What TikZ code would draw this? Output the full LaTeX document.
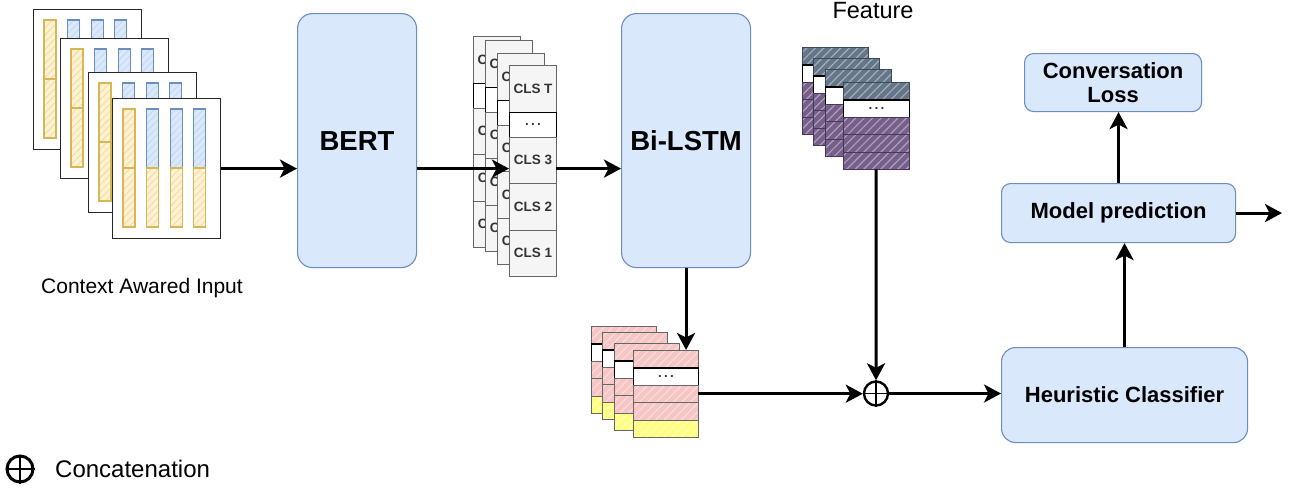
\documentclass[tikz,border=0pt]{standalone}
\usepackage{fontspec}
\setmainfont{Liberation Sans}
\usetikzlibrary{arrows.meta,patterns.meta}

\definecolor{boxfill}{HTML}{DAE8FC}
\definecolor{boxline}{HTML}{6C8EBF}
\definecolor{yfill}{HTML}{FFF2CC}
\definecolor{yline}{HTML}{D6B656}
\definecolor{yhatch}{HTML}{EBDDB5}
\definecolor{bhatch}{HTML}{C9D8EC}
\definecolor{cellfill}{HTML}{F5F5F5}
\definecolor{cellline}{HTML}{666666}
\definecolor{slate}{HTML}{647687}
\definecolor{slatehatch}{HTML}{A3AEBA}
\definecolor{slateline}{HTML}{3A4A5A}
\definecolor{purp}{HTML}{76608A}
\definecolor{purphatch}{HTML}{AE9FBB}
\definecolor{purpline}{HTML}{4A3560}
\definecolor{pinkfill}{HTML}{F6C6C4}
\definecolor{pinkhatch}{HTML}{FADDDC}
\definecolor{yelfill}{HTML}{FFFF80}
\definecolor{yelhatch}{HTML}{FFFFC0}
\definecolor{txtgray}{HTML}{333333}

\newcommand{\fbig}{\fontsize{27.5}{30}\selectfont\bfseries}
\newcommand{\fmid}{\fontsize{22}{24.5}\selectfont\bfseries}
\newcommand{\fcls}{\fontsize{13.5}{15}\selectfont\bfseries}
\newcommand{\fplain}{\fontsize{21}{24}\selectfont}

\tikzset{
  arr/.style={line width=3pt, -{Stealth[length=17pt,width=18pt,inset=4.5pt]}},
  bigbox/.style={draw=boxline, fill=boxfill, line width=1.1pt, rounded corners=#1, inner sep=0pt, anchor=north west, align=center},
  hatched/.style n args={3}{preaction={fill=#1}, pattern={Lines[angle=45,distance=6pt,line width=1.2pt]}, pattern color=#2, draw=#3},
  softhatch/.style n args={3}{preaction={fill=#1}, pattern={Lines[angle=45,distance=5pt,line width=0.9pt]}, pattern color=#2, draw=#3, line width=1.1pt},
  page/.style={draw=black!85, fill=white, line width=1.2pt, minimum width=108pt, minimum height=140pt, inner sep=0pt, anchor=north west},
  frame/.style={inner sep=0pt, anchor=north west},
  clscell/.style={draw=cellline, fill=cellfill, line width=1pt, minimum width=47pt, inner sep=0pt, anchor=north west, text=txtgray, font=\fcls},
  dotcell/.style={draw=black, fill=white, line width=1.1pt, inner sep=0pt, anchor=north west, text=txtgray, font=\fcls},
  stackcell/.style={line width=1pt, inner sep=0pt, anchor=north west},
  catsym/.style={circle, draw=black, line width=2.4pt, minimum size=24pt, inner sep=0pt},
  plain/.style={inner sep=0pt, font=\fplain}
}

\begin{document}
\begin{tikzpicture}[x=1pt,y=-1pt]
\useasboundingbox (0,0) rectangle (1306,490);

% ---- context aware input pages
\foreach \px/\py/\n in {33/9/1, 60/38/2, 88/72/3, 112/98/4} {
  \node[page] (in\n) at (\px,\py) {};
  \path[softhatch={yfill}{yhatch}{yline}] (\px+11,\py+11) rectangle ++(12,59);
  \path[softhatch={yfill}{yhatch}{yline}] (\px+11,\py+70) rectangle ++(12,59);
  \foreach \j in {1,2,3} {
    \path[softhatch={boxfill}{bhatch}{boxline}] ({\px+11+23.6*\j},\py+11) rectangle ++(12,59);
    \path[softhatch={yfill}{yhatch}{yline}] ({\px+11+23.6*\j},\py+70) rectangle ++(12,59);
  }
}
\node[plain] (ctxlbl) at (142,288) {Context Awared Input};

% ---- BERT
\node[bigbox=15pt, minimum width=119pt, minimum height=254pt] (bert) at (297,13) {\fbig BERT};

% ---- CLS stacks
\foreach \px/\py/\n in {473/36/1, 485/40/2, 497/53/3, 509/65/4} {
  \node[frame, minimum width=47pt, minimum height=211pt] (cls\n) at (\px,\py) {};
  \node[clscell, minimum height=46.5pt] (c\n t) at (\px,\py) {CLS T};
  \node[dotcell, minimum width=47pt, minimum height=25pt] (c\n d) at (\px,\py+46.5) {.\,.\,.};
  \node[clscell, minimum height=46.5pt] (c\n c) at (\px,\py+71.5) {CLS 3};
  \node[clscell, minimum height=46.5pt] (c\n b) at (\px,\py+118) {CLS 2};
  \node[clscell, minimum height=46.5pt] (c\n a) at (\px,\py+164.5) {CLS 1};
}

% ---- Bi-LSTM
\node[bigbox=15pt, minimum width=129pt, minimum height=254pt] (lstm) at (621,13) {\fbig Bi-LSTM};

% ---- Feature stacks
\node[plain, font=\fontsize{23.5}{26}\selectfont] (feat) at (873,11) {Feature};
\foreach \px/\py/\n in {802/47/1, 813/58/2, 825/69/3, 843/82/4} {
  \node[frame, minimum width=66pt, minimum height=87pt] (ft\n) at (\px,\py) {};
  \node[stackcell, hatched={slate}{slatehatch}{slateline}, minimum width=66pt, minimum height=17.4pt] (f\n a) at (\px,\py) {};
  \node[dotcell, minimum width=66pt, minimum height=17.4pt] (f\n b) at (\px,\py+17.4) {.\,.\,.};
  \node[stackcell, hatched={purp}{purphatch}{purpline}, minimum width=66pt, minimum height=17.4pt] (f\n c) at (\px,\py+34.8) {};
  \node[stackcell, hatched={purp}{purphatch}{purpline}, minimum width=66pt, minimum height=17.4pt] (f\n d) at (\px,\py+52.2) {};
  \node[stackcell, hatched={purp}{purphatch}{purpline}, minimum width=66pt, minimum height=17.4pt] (f\n e) at (\px,\py+69.6) {};
}

% ---- Pink stacks
\foreach \px/\py/\n in {591/326/1, 602/332/2, 614/343/3, 633/350/4} {
  \node[frame, minimum width=65pt, minimum height=87pt] (pk\n) at (\px,\py) {};
  \node[stackcell, hatched={pinkfill}{pinkhatch}{cellline}, minimum width=65pt, minimum height=17.4pt] (p\n a) at (\px,\py) {};
  \node[dotcell, minimum width=65pt, minimum height=17.4pt] (p\n b) at (\px,\py+17.4) {.\,.\,.};
  \node[stackcell, hatched={pinkfill}{pinkhatch}{cellline}, minimum width=65pt, minimum height=17.4pt] (p\n c) at (\px,\py+34.8) {};
  \node[stackcell, hatched={pinkfill}{pinkhatch}{cellline}, minimum width=65pt, minimum height=17.4pt] (p\n d) at (\px,\py+52.2) {};
  \node[stackcell, hatched={yelfill}{yelhatch}{cellline}, minimum width=65pt, minimum height=17.4pt] (p\n e) at (\px,\py+69.6) {};
}

% ---- concatenation
\node[catsym] (cat) at (876,393.5) {};
\draw[line width=1.6pt] (cat.north) -- (cat.south) (cat.west) -- (cat.east);

% ---- right boxes
\node[bigbox=14pt, minimum width=246pt, minimum height=95pt, font=\fmid] (heur) at (1001,347) {Heuristic Classifier};
\node[bigbox=9pt, minimum width=234pt, minimum height=59pt, font=\fmid] (model) at (1001,183) {Model prediction};
\node[bigbox=9pt, minimum width=177pt, minimum height=58pt, font=\fmid] (conv) at (1024,53) {Conversation\\Loss};
\coordinate (out) at (1282,212.5);

% ---- legend
\node[catsym, minimum size=26pt, line width=3pt] (lg) at (20,469) {};
\draw[line width=2.2pt] (lg.north) -- (lg.south) (lg.west) -- (lg.east);
\node[plain, anchor=west, font=\fontsize{24}{27}\selectfont] (lgt) at (55,469) {Concatenation};

% ---- connectors
\draw[arr] (in4.east) -- (in4.east -| bert.west);
\draw[arr] (bert.east |- in4.east) -- (cls4.west |- in4.east);
\draw[arr] (cls4.east |- in4.east) -- (lstm.west |- in4.east);
\draw[arr] (lstm.south) -- (lstm.south |- pk4.north);
\draw[arr] (pk4.east) -- (pk4.east -| cat.west);
\draw[arr] (ft4.south) -- (cat.north);
\draw[arr] (cat.east) -- (heur.west |- cat.east);
\draw[arr] (heur.north) -- (heur.north |- model.south);
\draw[arr] (model.north) -- (model.north |- conv.south);
\draw[arr] (model.east) -- (model.east -| out);
\end{tikzpicture}
\end{document}
